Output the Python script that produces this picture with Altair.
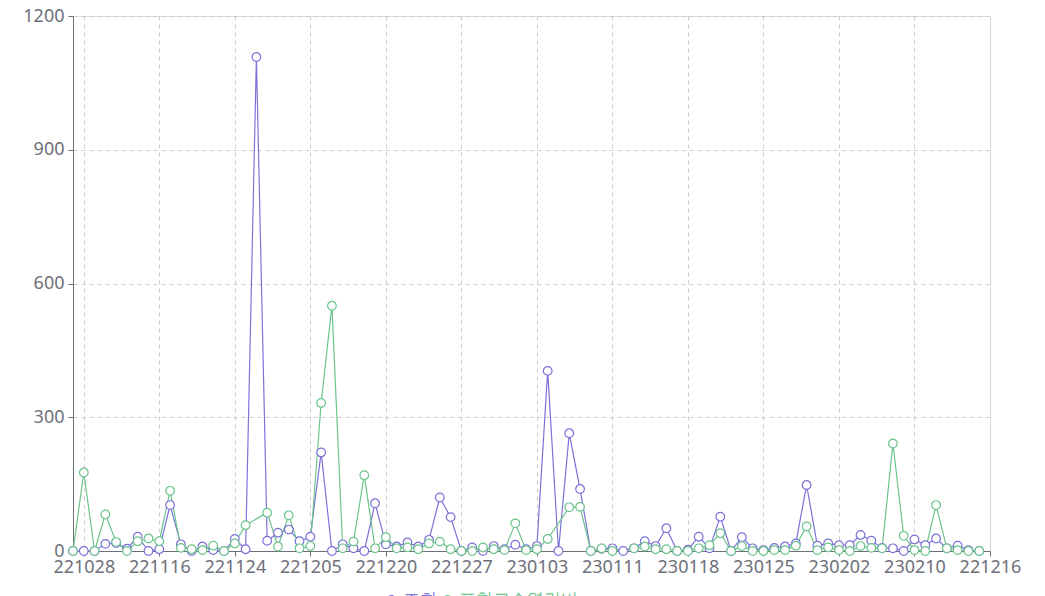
import altair as alt
import pandas as pd

dates = [
    "221027", "221028", "221031", "221101", "221102", "221104", "221108", "221111",
    "221116", "221117", "221118", "221119", "221121", "221122", "221123",
    "221124", "221125", "221128", "221129", "221130", "221201", "221202",
    "221205", "221206", "221207", "221208", "221209", "221213", "221214",
    "221220", "221221", "221222", "221223", "221224", "221225", "221226",
    "221227", "221228", "221229", "221230", "221231", "230101", "230102",
    "230103", "230104", "230105", "230106", "230107", "230109", "230110",
    "230111", "230112", "230113", "230114", "230115", "230116", "230117",
    "230118", "230119", "230120", "230121", "230122", "230123", "230124",
    "230125", "230126", "230127", "230128", "230130", "230131", "230201",
    "230202", "230203", "230204", "230205", "230206", "230207", "230208",
    "230210", "230211", "230212", "230213", "230214", "230215", "230216",
    "221216",
]

tick_dates = ["221028", "221116", "221124", "221205", "221220", "221227", "230103",
              "230111", "230118", "230125", "230202", "230210", "221216"]

views = [
    0, 0, 0, 16, 18, 5, 32, 0, 4, 103, 15, 0, 10, 2, 0,
    27, 4, 1108, 23, 41, 48, 22, 32, 221, 0, 15, 6, 0, 107,
    15, 10, 19, 10, 25, 120, 76, 0, 8, 0, 11, 4, 14, 4,
    11, 404, 0, 264, 139, 0, 5, 6, 0, 6, 22, 11, 51, 0,
    3, 32, 6, 77, 0, 31, 6, 2, 7, 10, 17, 148, 12, 17,
    13, 13, 36, 23, 7, 6, 0, 26, 13, 28, 6, 12, 2, 0,
]

expert_views = [
    0, 176, 0, 82, 20, 0, 22, 28, 22, 135, 7, 4, 2, 12, 0,
    17, 58, None, 86, 10, 80, 6, 11, 332, 550, 6, 21, 170, 6,
    31, 6, 8, 4, 17, 21, 4, 0, 0, 8, 4, 2, 62, 2,
    4, 27, None, 98, 99, 0, 6, 0, None, 6, 10, 4, 4, 0,
    0, 6, 13, 40, 0, 11, 0, 0, 2, 2, 12, 55, 2, 8,
    2, 0, 11, 7, 6, 241, 34, 2, 0, 103, 6, 2, 0, 0,
]

series_names = ["조회", "포함고수열람비"]
colors = ["#7b72d9", "#6cc48c"]

rows = []
for name, vals in zip(series_names, [views, expert_views]):
    for d, v in zip(dates, vals):
        if v is not None:
            rows.append({"date": d, "series": name, "value": v})
df = pd.DataFrame(rows)

font = "Noto Sans"

x = alt.X(
    "date:N",
    sort=dates,
    scale=alt.Scale(domain=dates, type="point", padding=0),
    axis=alt.Axis(
        title=None, values=tick_dates, labelAngle=0, labelFontSize=18,
        labelColor="#6e7079", labelFont=font, labelPadding=2,
        domainColor="#6e7079", tickColor="#6e7079", tickSize=5,
        grid=True, gridDash=[4, 4], gridColor="#cccccc",
    ),
)
y = alt.Y(
    "value:Q",
    scale=alt.Scale(domain=[0, 1200], nice=False),
    axis=alt.Axis(
        title=None, values=[0, 300, 600, 900, 1200], format="d", labelFontSize=18,
        labelColor="#6e7079", labelFont=font, labelPadding=4,
        domainColor="#6e7079", tickColor="#6e7079", tickSize=5,
        grid=True, gridDash=[4, 4], gridColor="#cccccc",
    ),
)
color = alt.Color(
    "series:N",
    scale=alt.Scale(domain=series_names, range=colors),
    legend=alt.Legend(
        title=None, orient="none", direction="horizontal",
        legendX=310, legendY=575, labelFontSize=17, labelFont=font,
        labelColor={"expr": "datum.value == '조회' ? '#7b72d9' : '#6cc48c'"},
        symbolType="circle", symbolFillColor="white", symbolStrokeWidth=1.2,
        symbolSize=70, labelOffset=3, columnPadding=2,
    ),
)

base = alt.Chart(df).encode(x=x, y=y, color=color, detail="series:N")
lines = base.mark_line(strokeWidth=1.2)
points = base.mark_point(shape="circle", filled=False, fill="white", fillOpacity=1,
                         size=75, strokeWidth=1.2, opacity=1)

chart = alt.layer(lines, points).properties(
    width=917, height=535,
    padding={"left": 65, "top": 8, "right": 40, "bottom": 60},
    autosize=alt.AutoSizeParams(type="none"),
).configure_view(stroke=None).configure(background="white")

chart.save("out.html", embed_options={"renderer": "svg", "actions": False})
